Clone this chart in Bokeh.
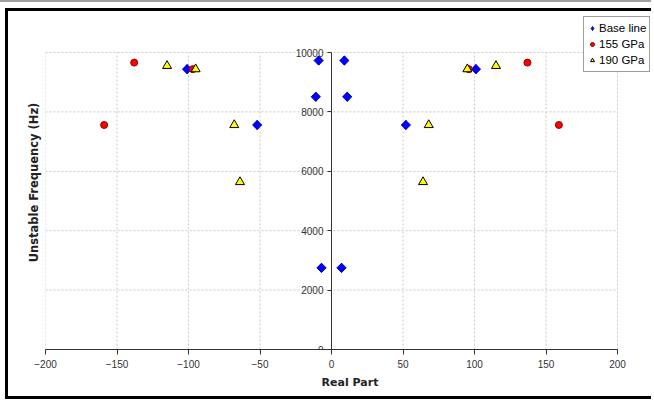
import numpy as np
from bokeh.plotting import figure
from bokeh.models import FixedTicker, Legend, LegendItem, Title
from bokeh.layouts import column
from bokeh.embed import file_html
from bokeh.resources import INLINE

# ---- data ----
base_x = [-101, -9, 9, -11, 11, -52, 52, -7, 7, 101]
base_y = [9440, 9730, 9730, 8510, 8510, 7560, 7560, 2750, 2750, 9440]

gpa155_x = [-138, -97, -159, 96, 137, 159]
gpa155_y = [9660, 9440, 7560, 9440, 9660, 7560]

gpa190_x = [-115, -95, -68, -64, 64, 68, 95, 115]
gpa190_y = [9550, 9440, 7560, 5640, 5640, 7560, 9440, 9550]

x_ticks = [-200, -150, -100, -50, 0, 50, 100, 150, 200]
y_ticks = [0, 2000, 4000, 6000, 8000, 10000]

series_names = ["Base line", "155 GPa", "190 GPa"]

X_MIN, X_MAX = -200, 200
Y_MIN, Y_MAX = 0, 10000

W, H = 646, 391
# frame extended to the right and top so the legend (outside the data area) is not clipped
p = figure(width=W, height=H, x_range=(X_MIN, 225.87), y_range=(Y_MIN, 11246),
           output_backend="svg", toolbar_location=None,
           min_border_left=37, min_border_right=0,
           min_border_top=4, min_border_bottom=53)
p.styles = {"border-left": "3px solid black", "border-top": "3px solid black",
            "border-bottom": "3px solid black", "margin-left": "5px",
            "margin-top": "6px"}
p.outline_line_color = None
p.background_fill_color = "white"
p.border_fill_color = "white"

# grid lines limited to the data area
p.xgrid.grid_line_color = None
p.ygrid.grid_line_color = None
grid_style = dict(line_color="#c8c8c8", line_dash="2 2", line_width=1)
p.segment(x0=x_ticks, y0=[Y_MIN] * len(x_ticks), x1=x_ticks, y1=[Y_MAX] * len(x_ticks), **grid_style)
p.segment(x0=[X_MIN] * len(y_ticks), y0=y_ticks, x1=[X_MAX] * len(y_ticks), y1=y_ticks, **grid_style)

# x axis
xa = p.xaxis[0]
xa.ticker = FixedTicker(ticks=x_ticks)
xa.bounds = (X_MIN, X_MAX)
xa.axis_label = "Real Part"
xa.axis_label_text_font = "DejaVu Sans"
xa.axis_label_text_font_size = "11px"
xa.axis_label_text_font_style = "bold"
xa.axis_label_text_color = "#222222"
xa.axis_label_standoff = 5
xa.major_label_text_font = "Liberation Sans"
xa.major_label_text_font_size = "10px"
xa.major_label_text_color = "#333333"
xa.major_label_standoff = 5
xa.axis_line_color = "#333333"
xa.major_tick_line_color = "#333333"
xa.major_tick_out = 5
xa.major_tick_in = 0
xa.minor_tick_line_color = None

# y axis at x = 0
ya = p.yaxis[0]
ya.fixed_location = 0
ya.bounds = (Y_MIN, Y_MAX)
ya.ticker = FixedTicker(ticks=y_ticks)
ya.major_label_text_font = "Liberation Sans"
ya.major_label_text_font_size = "10px"
ya.major_label_text_color = "#333333"
ya.major_label_standoff = 4
ya.axis_line_color = "#333333"
ya.major_tick_line_color = "#333333"
ya.major_tick_out = 4
ya.major_tick_in = 0
ya.minor_tick_line_color = None

p.add_layout(Title(text="Unstable Frequency (Hz)", align="center",
                   text_font="DejaVu Sans", text_font_size="11.5px",
                   text_font_style="bold", text_color="#222222"), "left")

diamond_style = dict(fill_color="#0000ff", line_color="#0000cc")
# legend key renderer (diamond), drawn underneath the rotated squares
r1_key = p.scatter(base_x, base_y, marker="diamond", size=9, **diamond_style)
r1 = p.scatter(base_x, base_y, marker="square", angle=np.pi / 4, size=6.5, **diamond_style)
r2 = p.scatter(gpa155_x, gpa155_y, marker="circle", size=7,
               fill_color="#ff0000", line_color="#990000")
r3 = p.scatter(gpa190_x, gpa190_y, marker="triangle", size=9,
               fill_color="#ffff00", line_color="#000000")

legend = Legend(items=[LegendItem(label=series_names[0], renderers=[r1_key]),
                       LegendItem(label=series_names[1], renderers=[r2]),
                       LegendItem(label=series_names[2], renderers=[r3])],
                location=(538, 277), margin=0, padding=3, spacing=0,
                glyph_width=10, glyph_height=16, label_height=16,
                label_standoff=2, label_text_font="Liberation Sans",
                label_text_font_size="11.5px", label_text_color="#000000",
                border_line_color="#404040", border_line_width=1,
                background_fill_color="white", background_fill_alpha=1)
p.add_layout(legend, "center")

page = column(p, styles={"border-top": "2px solid #a0a0a0"})

open("out.html", "w").write(file_html(page, INLINE))
